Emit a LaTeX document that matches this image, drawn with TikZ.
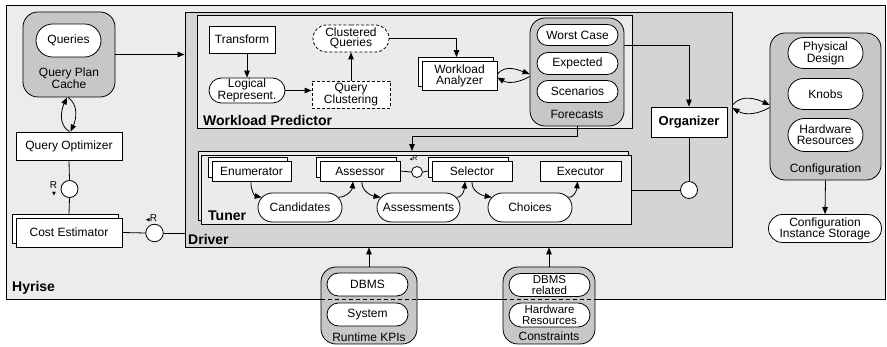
\documentclass[tikz,border=0pt]{standalone}
\usepackage{fontspec}
\setmainfont{Liberation Sans}
\newfontfamily\dvfont{DejaVu Sans}
\usetikzlibrary{arrows.meta,shapes.misc,shadows,calc}
\definecolor{hyfill}{gray}{0.925}
\definecolor{drfill}{gray}{0.83}
\definecolor{lfill}{gray}{0.92}
\definecolor{gfill}{gray}{0.78}
\newcommand\myfs{\fontsize{12}{12.5}\selectfont}
\newcommand\mytight{\fontsize{12}{11}\selectfont}
\newcommand\myqc{\fontsize{12}{10.5}\selectfont}
\newcommand\myvtight{\fontsize{11.5}{10.5}\selectfont}
\newcommand\mybf{\fontsize{14}{14}\selectfont\bfseries}
\tikzset{
  ln/.style={line width=0.8pt},
  arr/.style={ln,-{Triangle[length=7pt,width=5.5pt]}},
  sz/.style 2 args={minimum width=#1,minimum height=#2},
  cont/.style={draw,line width=0.9pt,rectangle,inner sep=0pt},
  box/.style={draw,ln,fill=white,rectangle,inner sep=0pt,align=center,font=\mytight},
  oval/.style={draw,ln,fill=white,rounded rectangle,inner sep=0pt,align=center,font=\mytight},
  grp/.style={draw,ln,fill=gfill,rectangle,rounded corners=15pt,inner sep=0pt},
  glbl/.style={inner sep=0pt,font=\myfs,align=center},
  lbl/.style={inner sep=0pt,font=\mybf},
  stk/.style={general shadow={shadow xshift=-3.5pt,shadow yshift=3.5pt,fill=white,draw=black,line width=0.8pt}},
  conn/.style={draw,ln,fill=white,circle,inner sep=0pt,minimum size=#1},
}
\begin{document}
\begin{tikzpicture}[x=1pt,y=-1pt]
\useasboundingbox (0,0) rectangle (887,347);
% containers
\node[cont,fill=hyfill,sz={879pt}{294pt}] (hy) at (445.5,152) {};
\node[cont,fill=drfill,sz={547pt}{235pt}] (driver) at (458.5,129.5) {};
\node[cont,fill=lfill,sz={435pt}{113pt}] (wp) at (414.5,71.5) {};
\node[cont,fill=lfill,sz={430pt}{69pt},general shadow={shadow xshift=-3.5pt,shadow yshift=3.5pt,fill=lfill,draw=black,line width=0.9pt}] (tuner) at (416.5,189.5) {};
\node[lbl,anchor=base west] (hyl) at (12,292) {Hyrise};
\node[lbl,anchor=base west] (drl) at (188,245) {Driver};
\node[lbl,anchor=base west] (tul) at (208,220.5) {Tuner};
\node[lbl,anchor=base west] (wpl) at (203,126) {Workload Predictor};
% left column
\node[grp,sz={92pt}{85pt}] (qpc) at (69,54.5) {};
\node[oval,font=\myfs,sz={65pt}{33pt}] (queries) at (68.5,40.5) {Queries};
\node[glbl] (qpcl) at (69,78) {Query Plan\\Cache};
\node[box,font=\myfs,sz={106pt}{28pt}] (qo) at (69,146) {Query Optimizer};
\node[conn=17pt] (c1) at (69.5,189) {};
\node[box,font=\myfs,sz={106pt}{29pt},stk] (ce) at (69,232.5) {Cost Estimator};
\node[conn=17.5pt] (c2) at (154.5,233) {};
\node[inner sep=0pt,font=\fontsize{10}{10}\selectfont] (r1) at (53.5,185.5) {R};
\node[inner sep=0pt,font=\dvfont\fontsize{5}{5}\selectfont] (t1) at (54,194) {▼};
\node[inner sep=0pt,font=\fontsize{10}{10}\selectfont] (r2) at (151.5,218) {{\dvfont\fontsize{5}{5}\selectfont ◀}R};
% workload predictor
\node[box,sz={66pt}{27pt}] (tr) at (242,39.5) {Transform};
\node[oval,font=\myqc,sz={76pt}{25pt}] (lr) at (247,90.5) {Logical\\Represent.};
\node[box,font=\myqc,dashed,dash pattern=on 3pt off 2pt,sz={78pt}{27pt}] (qc) at (351,94.5) {Query\\Clustering};
\node[oval,font=\myqc,dashed,dash pattern=on 3pt off 2pt,sz={76pt}{27pt}] (cq) at (351,38.5) {Clustered\\Queries};
\node[box,stk,sz={75pt}{29pt}] (wa) at (459.5,75.5) {Workload\\Analyzer};
\node[grp,sz={94pt}{108pt}] (fc) at (577,72) {};
\node[oval,font=\myfs,sz={81pt}{21pt}] (wc) at (577.5,35) {Worst Case};
\node[oval,font=\myfs,sz={81pt}{22pt}] (ex) at (577.5,63.5) {Expected};
\node[oval,font=\myfs,sz={81pt}{22pt}] (sc) at (577.5,91.5) {Scenarios};
\node[glbl] (fcl) at (577,114) {Forecasts};
% organizer
\node[box,sz={76pt}{30pt},font=\fontsize{13}{13}\selectfont\bfseries] (org) at (689,122) {Organizer};
\node[conn=17pt] (c3) at (689,190) {};
% tuner
\node[box,stk,font=\myfs,sz={79pt}{20pt}] (en) at (251.5,171) {Enumerator};
\node[box,stk,font=\myfs,sz={80pt}{20pt}] (ass) at (360,171) {Assessor};
\node[box,stk,font=\myfs,sz={80pt}{20pt}] (sel) at (472,171) {Selector};
\node[box,font=\myfs,sz={81pt}{20pt}] (exe) at (580.5,171) {Executor};
\node[conn=11pt] (c4) at (417,172) {};
\node[inner sep=0pt] (r4) at (413.5,158) {{\dvfont\fontsize{3.5}{4}\selectfont ◀}{\fontsize{7}{7}\selectfont R}};
\node[oval,font=\myfs,sz={84pt}{29pt}] (cand) at (300,207.5) {Candidates};
\node[oval,font=\myfs,sz={83pt}{29pt}] (asm) at (418.5,207.5) {Assessments};
\node[oval,font=\myfs,sz={84pt}{29pt}] (cho) at (530,207.5) {Choices};
% configuration
\node[grp,sz={111pt}{147pt}] (cfg) at (825.5,106.5) {};
\node[oval,sz={75pt}{31pt}] (pd) at (825.5,53) {Physical\\Design};
\node[oval,font=\myfs,sz={75pt}{31pt}] (kn) at (825.5,94) {Knobs};
\node[oval,sz={75pt}{33pt}] (hr) at (825.5,135) {Hardware\\Resources};
\node[glbl] (cfgl) at (825.5,169) {Configuration};
\node[oval,sz={113pt}{28pt}] (cis) at (825,228.5) {Configuration\\Instance Storage};
% bottom groups
\node[grp,sz={96pt}{77pt}] (kpi) at (369,305.5) {};
\node[oval,font=\myfs,sz={81pt}{23pt}] (kd) at (367.5,284.5) {DBMS};
\node[oval,font=\myfs,sz={81pt}{23pt}] (ks) at (367.5,314.5) {System};
\node[glbl] (kpil) at (369,337) {Runtime KPIs};
\node[grp,sz={92pt}{77pt}] (cons) at (549,305.5) {};
\node[oval,font=\myvtight,sz={81pt}{23pt}] (cd) at (549.5,285) {DBMS\\related};
\node[oval,font=\myvtight,sz={81pt}{24pt}] (ch) at (549.5,315) {Hardware\\Resources};
\node[glbl] (consl) at (549,336) {Constraints};
\draw[ln,dash pattern=on 4pt off 3pt] (kpi.west |- hy.south) -- (kpi.east |- hy.south);
\draw[ln,dash pattern=on 4pt off 3pt] (cons.west |- hy.south) -- (cons.east |- hy.south);
% connectors left
\draw[arr] (qpc.east) -- (qpc.east -| driver.west);
\draw[arr] ([xshift=0.5pt]qo.north) to[out=150,in=-115] ([xshift=-2pt]qpc.south);
\draw[arr] ([xshift=-1pt]qpc.south) to[out=-35,in=65] ([xshift=1.5pt]qo.north);
\draw[ln] (qo.south) -- (c1.north);
\draw[ln] (c1.south) -- ([yshift=3.5pt]ce.north);
\draw[ln] (ce.east) -- (c2.west);
\draw[ln] (c2.east) -- (c2.east -| driver.west);
% workload predictor connectors
\draw[arr] (lr.north |- tr.south) -- (lr.north);
\draw[arr] (lr.east) -- (lr.east -| qc.west);
\draw[arr] (qc.north) -- (cq.south);
\coordinate (wat) at ([shift={(-3pt,3.5pt)}]wa.north);
\draw[arr] (cq.east) -| (wat);
\coordinate (wf) at (fc.west |- wa.east);
\draw[arr] ([yshift=1.5pt]wa.east) to[out=50,in=160] ([yshift=1.5pt]wf);
\draw[arr] ([yshift=-1pt]wf) to[out=-150,in=-30] ([yshift=-2pt]wa.east);
% forecasts to organizer and tuner
\draw[arr] (fc.east |- wc.south) -| (org.north);
\coordinate (tt) at ([yshift=3.5pt]tuner.north -| 412,0);
\coordinate (fb) at (fc.south |- 0,136);
\draw[arr] (fc.south) -- (fb) -| (tt);
\draw[ln] (org.south) -- (c3.north);
\draw[ln] (c3.west) -- (c3.west -| tuner.east);
% driver <-> configuration
\coordinate (dc) at (driver.east |- cfg.west);
\draw[arr] ([yshift=1.5pt]dc) to[out=50,in=155] ([yshift=1.5pt]cfg.west);
\draw[arr] ([yshift=-1pt]cfg.west) to[out=-150,in=-30] ([yshift=-1.5pt]dc);
\draw[arr] (cfg.south) -- (cis.north);
% bottom arrows
\draw[arr] (kpi.north) -- (kpi.north |- driver.south);
\draw[arr] (cons.north) -- (cons.north |- driver.south);
% tuner connectors
\draw[ln] (ass.east) -- (c4.west);
\draw[ln] (c4.east) -- ([xshift=-3.5pt]sel.west);
\draw[arr] ([xshift=-0.5pt]en.south) to[out=-95,in=170] (cand.165);
\draw[arr] (cand.15) to[out=0,in=-95] ([xshift=-7pt]ass.south);
\draw[arr] ([xshift=2pt]ass.south) to[out=-95,in=170] (asm.165);
\draw[arr] (asm.15) to[out=0,in=-95] ([xshift=-7pt]sel.south);
\draw[arr] (sel.south) to[out=-95,in=170] (cho.165);
\draw[arr] (cho.15) to[out=0,in=-95] ([xshift=-3pt]exe.south);
\end{tikzpicture}
\end{document}
